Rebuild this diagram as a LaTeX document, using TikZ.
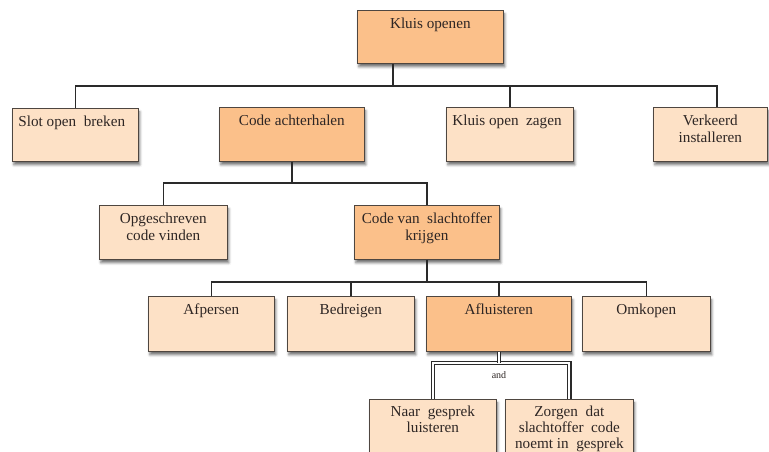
\documentclass[tikz,border=0pt]{standalone}
\usepackage{fontspec}
\setmainfont{Liberation Serif}
\usetikzlibrary{shadows.blur}

\definecolor{leafFill}{HTML}{FDE1C6}
\definecolor{goalFill}{HTML}{FBC08A}
\definecolor{edgeGray}{HTML}{4E4640}
\definecolor{inkText}{HTML}{2E2624}
\definecolor{wireInk}{HTML}{2A2A2A}

% box given by its corners (left, top, right, bottom), text hangs from the top
\newcommand{\treebox}[7]{%
  \node[#6, anchor=north west] (#1) at (#2,#3)
    {\parbox[t][\dimexpr #5pt-#3pt-13pt\relax][t]{\dimexpr #4pt-#2pt-12pt\relax}{#7}};%
}

\begin{document}
\begin{tikzpicture}[x=1pt, y=-1pt,
  boxbase/.style={draw=edgeGray, line width=0.7pt, inner xsep=6pt, inner ysep=6.5pt,
    text=inkText, font=\fontsize{15.2}{16.6}\selectfont,
    blur shadow={shadow xshift=1.5pt, shadow yshift=-3.5pt, shadow blur radius=2.5pt, shadow opacity=55}},
  leaf/.style={boxbase, fill=leafFill},
  goal/.style={boxbase, fill=goalFill},
  lowleaf/.style={leaf, font=\fontsize{15.2}{16.1}\selectfont},
  wire/.style={draw=wireInk, line width=1.3pt},
  andwire/.style={draw=wireInk, line width=1.1pt, double=white, double distance=2.2pt},
  andlabel/.style={font=\fontsize{10}{11}\selectfont, text=inkText, inner sep=0pt}]

\useasboundingbox (0,0) rectangle (769,452);
\clip (0,0) rectangle (769,452);

% level 0
\treebox{root}{357}{10}{503}{63}{goal}{\centering\strut Kluis openen}

% level 1
\treebox{slot}{12}{108}{138}{161}{leaf}{\raggedright\strut Slot open\ \ breken}
\treebox{code}{219}{107}{364}{161}{goal}{\centering\strut Code achterhalen}
\treebox{zaag}{446}{107}{573}{161}{leaf}{\raggedright\strut Kluis open\ \ zagen}
\treebox{verk}{653}{107}{767}{161}{leaf}{\centering\strut Verkeerd\\installeren}

% level 2
\treebox{opge}{99}{205}{227}{259}{leaf}{\centering\strut Opgeschreven\\code vinden}
\treebox{slac}{354}{205}{499}{259}{goal}{\centering\strut Code van\ \ slachtoffer\\krijgen}

% level 3
\treebox{afpe}{148}{296}{274}{351}{leaf}{\centering\strut Afpersen}
\treebox{bedr}{287}{296}{414}{351}{leaf}{\centering\strut Bedreigen}
\treebox{aflu}{426}{296}{571}{351}{goal}{\centering\strut Afluisteren}
\treebox{omko}{582}{296}{710}{351}{leaf}{\centering\strut Omkopen}

% level 4
\treebox{naar}{369}{399}{496}{472}{lowleaf}{\centering\vspace*{-1pt}\strut Naar\ \ gesprek\\luisteren}
\treebox{zorg}{505}{399}{633}{472}{lowleaf}{\centering\vspace*{-1pt}\strut Zorgen\ \ dat\\slachtoffer\ \ code\\noemt in\ \ gesprek}

% junction points of the connectors
\coordinate (j0) at (393,86);
\coordinate (j1) at (292,183);
\coordinate (j2) at (427,282);
\coordinate (j3) at (499,363);

% root -> level 1
\draw[wire] (j0 |- root.south) -- (j0);
\draw[wire] (slot.north) |- (j0) -| (verk.north -| 717,0);
\draw[wire] (code.north -| j1) -- (code.north -| j1 |- j0);
\draw[wire] (zaag.north) -- (zaag.north |- j0);

% Code achterhalen -> level 2
\draw[wire] (j1 |- code.south) -- (j1);
\draw[wire] (opge.north) |- (j1) -| (slac.north);

% Code van slachtoffer krijgen -> level 3
\draw[wire] (j2 |- slac.south) -- (j2);
\draw[wire] (afpe.north) |- (j2) -| (omko.north);
\draw[wire] (bedr.north) -- (bedr.north |- j2);
\draw[wire] (aflu.north) -- (aflu.north |- j2);

% Afluisteren -> level 4 (and): the stem is drawn last so it opens into the bar
\draw[andwire] (naar.north) |- (j3) -| (zorg.north);
\draw[andwire] (j3 |- aflu.south) -- (j3);
\node[andlabel] (andtxt) at (499,375) {and};

\end{tikzpicture}
\end{document}
